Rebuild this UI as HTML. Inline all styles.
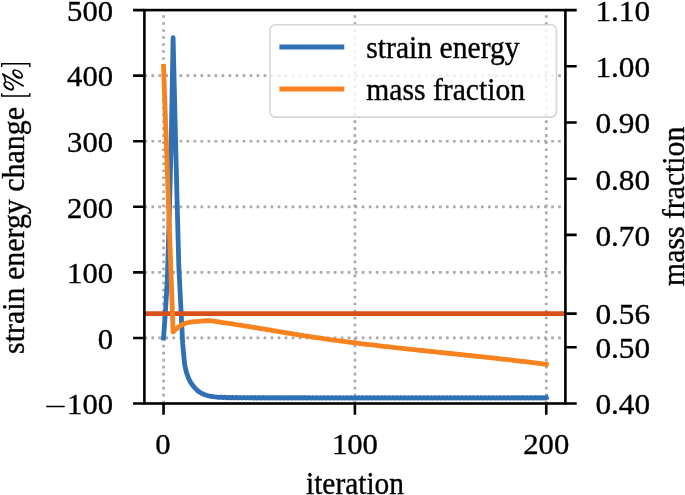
<!DOCTYPE html>
<html><head><meta charset="utf-8"><style>
html,body{margin:0;padding:0;background:#fff;}
svg{display:block;}
text{font-family:"Liberation Serif",serif;font-size:30.8px;fill:#000;stroke:#000;stroke-width:0.35px;}
.d{font-size:30.4px;}
svg{will-change:transform;}
.g{fill:none;stroke:#a8a8a8;stroke-width:2.65;stroke-dasharray:2.65 4.363;stroke-linecap:butt;}
</style></head>
<body><svg width="685" height="495" viewBox="0 0 685 495">
<rect width="685" height="495" fill="#fff"/>
<path d="M144.40 75.67 H565.40" class="g"/>
<path d="M144.40 141.23 H565.40" class="g"/>
<path d="M144.40 206.80 H565.40" class="g"/>
<path d="M144.40 272.37 H565.40" class="g"/>
<path d="M144.40 337.93 H565.40" class="g"/>
<path d="M163.54 403.50 V10.10" class="g"/>
<path d="M354.90 403.50 V10.10" class="g"/>
<path d="M546.26 403.50 V10.10" class="g"/>
<path d="M163.54 337.93 L165.45 311.71 L167.36 278.92 L169.28 214.67 L171.19 142.54 L173.10 37.64 L175.02 118.29 L176.93 195.00 L178.85 267.12 L180.76 305.15 L182.67 343.18 L184.59 364.16 L186.50 372.68 L188.41 377.93 L190.33 381.86 L192.24 384.81 L194.15 387.11 L196.07 389.08 L197.98 391.04 L199.90 392.35 L201.81 393.40 L203.72 394.26 L205.64 394.98 L207.55 395.57 L209.46 396.03 L211.38 396.35 L213.29 396.64 L215.20 396.87 L217.12 397.05 L219.03 397.49 L220.95 397.01 L222.86 397.69 L224.77 397.17 L226.69 397.82 L228.60 397.28 L230.51 397.91 L232.43 397.35 L234.34 397.97 L236.25 397.40 L238.17 398.00 L240.08 397.43 L242.00 398.03 L243.91 397.46 L245.82 398.06 L247.74 397.47 L249.65 398.07 L251.56 397.49 L253.48 398.09 L255.39 397.50 L257.30 398.10 L259.22 397.51 L261.13 398.11 L263.05 397.52 L264.96 398.12 L266.87 397.53 L268.79 398.12 L270.70 397.54 L272.61 398.13 L274.53 397.54 L276.44 398.13 L278.35 397.55 L280.27 398.14 L282.18 397.55 L284.10 398.14 L286.01 397.56 L287.92 398.15 L289.84 397.56 L291.75 398.15 L293.66 397.56 L295.58 398.16 L297.49 397.57 L299.40 398.16 L301.32 397.57 L303.23 398.16 L305.15 397.57 L307.06 398.16 L308.97 397.58 L310.89 398.17 L312.80 397.58 L314.71 398.17 L316.63 397.58 L318.54 398.17 L320.45 397.58 L322.37 398.17 L324.28 397.58 L326.20 398.17 L328.11 397.59 L330.02 398.18 L331.94 397.59 L333.85 398.18 L335.76 397.59 L337.68 398.18 L339.59 397.59 L341.50 398.18 L343.42 397.59 L345.33 398.18 L347.25 397.59 L349.16 398.18 L351.07 397.59 L352.99 398.18 L354.90 397.59 L356.81 398.18 L358.73 397.59 L360.64 398.18 L362.55 397.59 L364.47 398.18 L366.38 397.59 L368.30 398.18 L370.21 397.59 L372.12 398.18 L374.04 397.59 L375.95 398.19 L377.86 397.60 L379.78 398.19 L381.69 397.60 L383.60 398.19 L385.52 397.60 L387.43 398.19 L389.35 397.60 L391.26 398.19 L393.17 397.60 L395.09 398.19 L397.00 397.60 L398.91 398.19 L400.83 397.60 L402.74 398.19 L404.65 397.60 L406.57 398.19 L408.48 397.60 L410.40 398.19 L412.31 397.60 L414.22 398.19 L416.14 397.60 L418.05 398.19 L419.96 397.60 L421.88 398.19 L423.79 397.60 L425.70 398.19 L427.62 397.60 L429.53 398.19 L431.45 397.60 L433.36 398.19 L435.27 397.60 L437.19 398.19 L439.10 397.60 L441.01 398.19 L442.93 397.60 L444.84 398.19 L446.75 397.60 L448.67 398.19 L450.58 397.60 L452.50 398.19 L454.41 397.60 L456.32 398.19 L458.24 397.60 L460.15 398.19 L462.06 397.60 L463.98 398.19 L465.89 397.60 L467.80 398.19 L469.72 397.60 L471.63 398.19 L473.55 397.60 L475.46 398.19 L477.37 397.60 L479.29 398.19 L481.20 397.60 L483.11 398.19 L485.03 397.60 L486.94 398.19 L488.85 397.60 L490.77 398.19 L492.68 397.60 L494.60 398.19 L496.51 397.60 L498.42 398.19 L500.34 397.60 L502.25 398.19 L504.16 397.60 L506.08 398.19 L507.99 397.60 L509.90 398.19 L511.82 397.60 L513.73 398.19 L515.65 397.60 L517.56 398.19 L519.47 397.60 L521.39 398.19 L523.30 397.60 L525.21 398.19 L527.13 397.60 L529.04 398.19 L530.95 397.60 L532.87 398.19 L534.78 397.60 L536.70 398.19 L538.61 397.60 L540.52 398.19 L542.44 397.60 L544.35 398.19 L546.26 397.60" fill="none" stroke="#3070b5" stroke-width="4.8" stroke-linejoin="round" stroke-linecap="square"/>
<path d="M144.40 313.58 H565.40" stroke="#d95118" stroke-width="4.8" stroke-linecap="butt"/>
<path d="M163.54 66.30 L173.10 331.90 L175.02 330.16 L176.93 328.53 L178.85 326.96 L180.76 325.49 L182.67 324.37 L184.59 323.58 L186.50 323.02 L188.41 322.59 L190.33 322.23 L192.24 321.96 L194.15 321.73 L196.07 321.52 L197.98 321.34 L199.90 321.19 L201.81 321.05 L203.72 320.93 L205.64 320.83 L207.55 320.76 L209.46 320.72 L211.38 320.96 L213.29 321.21 L215.20 321.47 L217.12 321.73 L219.03 321.99 L220.95 322.26 L222.86 322.53 L224.77 322.81 L226.69 323.09 L228.60 323.37 L230.51 323.66 L232.43 323.95 L234.34 324.25 L236.25 324.54 L238.17 324.84 L240.08 325.14 L242.00 325.45 L243.91 325.76 L245.82 326.07 L247.74 326.38 L249.65 326.69 L251.56 327.00 L253.48 327.32 L255.39 327.64 L257.30 327.96 L259.22 328.28 L261.13 328.60 L263.05 328.92 L264.96 329.24 L266.87 329.57 L268.79 329.89 L270.70 330.21 L272.61 330.54 L274.53 330.86 L276.44 331.18 L278.35 331.51 L280.27 331.83 L282.18 332.15 L284.10 332.47 L286.01 332.79 L287.92 333.11 L289.84 333.43 L291.75 333.74 L293.66 334.06 L295.58 334.37 L297.49 334.68 L299.40 334.99 L301.32 335.29 L303.23 335.60 L305.15 335.90 L307.06 336.19 L308.97 336.49 L310.89 336.78 L312.80 337.07 L314.71 337.36 L316.63 337.64 L318.54 337.93 L320.45 338.21 L322.37 338.48 L324.28 338.76 L326.20 339.03 L328.11 339.30 L330.02 339.57 L331.94 339.84 L333.85 340.10 L335.76 340.36 L337.68 340.62 L339.59 340.88 L341.50 341.13 L343.42 341.39 L345.33 341.64 L347.25 341.89 L349.16 342.13 L351.07 342.38 L352.99 342.62 L354.90 342.87 L356.81 343.11 L358.73 343.34 L360.64 343.58 L362.55 343.82 L364.47 344.05 L366.38 344.28 L368.30 344.51 L370.21 344.74 L372.12 344.97 L374.04 345.19 L375.95 345.42 L377.86 345.64 L379.78 345.86 L381.69 346.08 L383.60 346.30 L385.52 346.52 L387.43 346.74 L389.35 346.95 L391.26 347.17 L393.17 347.38 L395.09 347.60 L397.00 347.81 L398.91 348.02 L400.83 348.23 L402.74 348.44 L404.65 348.65 L406.57 348.85 L408.48 349.06 L410.40 349.27 L412.31 349.47 L414.22 349.68 L416.14 349.88 L418.05 350.08 L419.96 350.29 L421.88 350.49 L423.79 350.69 L425.70 350.89 L427.62 351.09 L429.53 351.29 L431.45 351.49 L433.36 351.69 L435.27 351.89 L437.19 352.09 L439.10 352.29 L441.01 352.49 L442.93 352.69 L444.84 352.89 L446.75 353.09 L448.67 353.29 L450.58 353.49 L452.50 353.69 L454.41 353.89 L456.32 354.09 L458.24 354.29 L460.15 354.49 L462.06 354.69 L463.98 354.89 L465.89 355.10 L467.80 355.30 L469.72 355.50 L471.63 355.70 L473.55 355.91 L475.46 356.11 L477.37 356.31 L479.29 356.52 L481.20 356.72 L483.11 356.93 L485.03 357.14 L486.94 357.35 L488.85 357.56 L490.77 357.76 L492.68 357.98 L494.60 358.19 L496.51 358.40 L498.42 358.61 L500.34 358.83 L502.25 359.04 L504.16 359.26 L506.08 359.48 L507.99 359.70 L509.90 359.92 L511.82 360.14 L513.73 360.36 L515.65 360.58 L517.56 360.81 L519.47 361.04 L521.39 361.27 L523.30 361.49 L525.21 361.73 L527.13 361.96 L529.04 362.19 L530.95 362.43 L532.87 362.67 L534.78 362.91 L536.70 363.15 L538.61 363.39 L540.52 363.64 L542.44 363.88 L544.35 364.13 L546.26 364.38" fill="none" stroke="#f7821e" stroke-width="4.8" stroke-linejoin="round" stroke-linecap="square"/>
<rect x="144.40" y="10.10" width="421.00" height="393.40" fill="none" stroke="#000" stroke-width="2.6" stroke-linejoin="miter"/>
<path d="M144.40 10.10 H133.10 M144.40 75.67 H133.10 M144.40 141.23 H133.10 M144.40 206.80 H133.10 M144.40 272.37 H133.10 M144.40 337.93 H133.10 M144.40 403.50 H133.10 M565.40 10.10 H576.70 M565.40 66.30 H576.70 M565.40 122.50 H576.70 M565.40 178.70 H576.70 M565.40 234.90 H576.70 M565.40 313.58 H576.70 M565.40 347.30 H576.70 M565.40 403.50 H576.70 M163.54 403.50 V414.80 M354.90 403.50 V414.80 M546.26 403.50 V414.80" stroke="#000" stroke-width="2.6" stroke-linecap="butt"/>
<rect x="270.1" y="24.7" width="286.30" height="92.40" rx="5.2" ry="5.2" fill="#fff" fill-opacity="0.8" stroke="#cccccc" stroke-opacity="0.8" stroke-width="1.6"/>
<path d="M279.4 47 H344.3" stroke="#3070b5" stroke-width="4.8"/>
<path d="M279.4 89 H344.3" stroke="#f7821e" stroke-width="4.8"/>
<text transform="translate(113.10 20.90) scale(1.0100 1)" text-anchor="end" class="d">500</text>
<text transform="translate(113.10 86.47) scale(1.0100 1)" text-anchor="end" class="d">400</text>
<text transform="translate(113.10 152.03) scale(1.0100 1)" text-anchor="end" class="d">300</text>
<text transform="translate(113.10 217.60) scale(1.0100 1)" text-anchor="end" class="d">200</text>
<text transform="translate(113.10 283.17) scale(1.0100 1)" text-anchor="end" class="d">100</text>
<text transform="translate(113.10 348.73) scale(1.0100 1)" text-anchor="end" class="d">0</text>
<text transform="translate(113.10 414.30) scale(1.0100 1)" text-anchor="end" class="d">100</text>
<path d="M46.7 406.45 H64.2" stroke="#000" stroke-width="1.4" stroke-linecap="round"/>
<text transform="translate(595.40 20.90) scale(1.0300 1)" text-anchor="start" class="d">1.10</text>
<text transform="translate(595.40 77.10) scale(1.0300 1)" text-anchor="start" class="d">1.00</text>
<text transform="translate(595.40 133.30) scale(1.0300 1)" text-anchor="start" class="d">0.90</text>
<text transform="translate(595.40 189.50) scale(1.0300 1)" text-anchor="start" class="d">0.80</text>
<text transform="translate(595.40 245.70) scale(1.0300 1)" text-anchor="start" class="d">0.70</text>
<text transform="translate(595.40 324.38) scale(1.0300 1)" text-anchor="start" class="d">0.56</text>
<text transform="translate(595.40 358.10) scale(1.0300 1)" text-anchor="start" class="d">0.50</text>
<text transform="translate(595.40 414.30) scale(1.0300 1)" text-anchor="start" class="d">0.40</text>
<text transform="translate(162.84 453.90) scale(1.0100 1)" text-anchor="middle" class="d">0</text>
<text transform="translate(354.90 453.90) scale(1.0100 1)" text-anchor="middle" class="d">100</text>
<text transform="translate(546.26 453.90) scale(1.0100 1)" text-anchor="middle" class="d">200</text>
<text transform="translate(355.00 494.00) scale(0.9550 1)" text-anchor="middle">iteration</text>
<text transform="translate(24.20 353.90) rotate(-90) scale(0.9710 1)" text-anchor="start">strain energy change</text>
<path d="M29.8 93.2 V96.05 H1.7 V93.2" fill="none" stroke="#000" stroke-width="1.45" stroke-linejoin="miter"/>
<path d="M29.8 67.1 V63.65 H1.7 V67.1" fill="none" stroke="#000" stroke-width="1.45" stroke-linejoin="miter"/>
<path d="M12.64 70.61 A6.0 3.65 35 1 0 22.46 77.49 A6.0 3.65 35 1 0 12.64 70.61ZM14.17 71.26 A4.25 1.95 35 1 0 21.13 76.14 A4.25 1.95 35 1 0 14.17 71.26ZM3.84 82.51 A6.0 3.65 35 1 0 13.66 89.39 A6.0 3.65 35 1 0 3.84 82.51ZM5.32 83.21 A4.25 1.95 35 1 0 12.28 88.09 A4.25 1.95 35 1 0 5.32 83.21Z" fill="#000" fill-rule="evenodd"/>
<path d="M2.7 74.0 L23.3 86.0 M2.7 74.0 Q5.0 76.5 5.5 81.2" fill="none" stroke="#000" stroke-width="1.45" stroke-linecap="round"/>
<text transform="translate(683.60 206.30) rotate(-90) scale(0.9643 1)" text-anchor="middle">mass fraction</text>
<text transform="translate(366.30 57.80) scale(0.9625 1)" text-anchor="start">strain energy</text>
<text transform="translate(366.30 99.50) scale(0.9625 1)" text-anchor="start">mass fraction</text>
</svg></body></html>
